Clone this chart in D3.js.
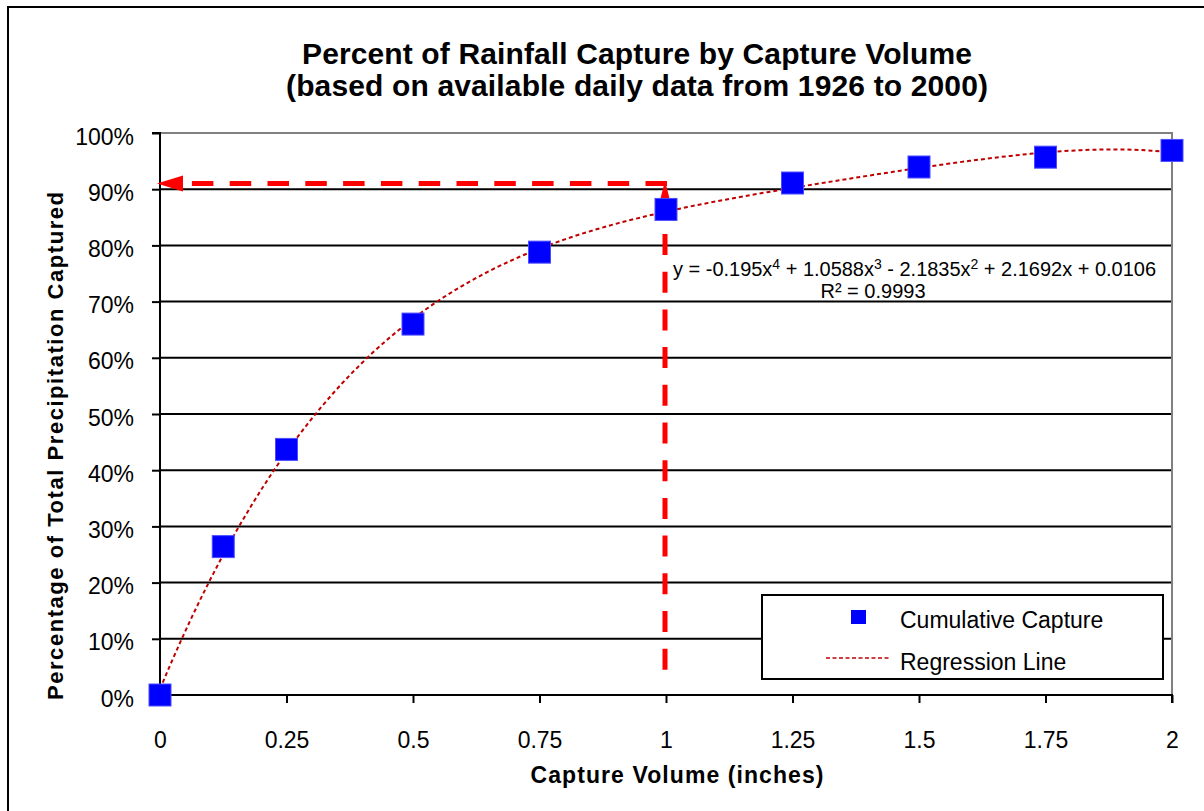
<!DOCTYPE html>
<html><head><meta charset="utf-8">
<script src="https://cdn.jsdelivr.net/npm/d3@7"></script>
<style>
html,body{margin:0;padding:0;background:#fff;}
svg{display:block;font-family:"Liberation Sans",Arial,sans-serif;}
</style></head>
<body>
<svg id="chart" width="1204" height="811"></svg>
<script>
// ---- data ----
const captureVolume = [0, 0.125, 0.25, 0.5, 0.75, 1, 1.25, 1.5, 1.75, 2];
const cumulativeCapture = [0.0, 0.264, 0.437, 0.660, 0.788, 0.864, 0.911, 0.9395, 0.957, 0.969];
const regressionCoeffs = [0.0106, 2.1692, -2.1835, 1.0588, -0.195]; // c0..c4 as printed on chart
const xTicks = [0, 0.25, 0.5, 0.75, 1, 1.25, 1.5, 1.75, 2];
const yTicks = [0, 0.1, 0.2, 0.3, 0.4, 0.5, 0.6, 0.7, 0.8, 0.9, 1.0];
const arrowPoint = [1, 0.91];
const arrowStartY = 0.045;
const titleLines = ["Percent of Rainfall Capture by Capture Volume", "(based on available daily data from 1926 to 2000)"];
const xTitle = "Capture Volume (inches)";
const yTitle = "Percentage of Total Precipitation Captured";
const legendLabels = ["Cumulative Capture", "Regression Line"];

const svg = d3.select("#chart");
const L = 160, R = 1172, T = 133, B = 695;
const x = d3.scaleLinear().domain([0, 2]).range([L, R]);
const y = d3.scaleLinear().domain([0, 1]).range([B, T]);

// outer frame
svg.append("rect").attr("x", 8).attr("y", 7).attr("width", 1400).attr("height", 1000)
  .attr("fill", "none").attr("stroke", "#000").attr("stroke-width", 2);

// title
const title = svg.append("text").attr("text-anchor", "middle").attr("font-weight", "bold")
  .attr("font-size", 30).attr("fill", "#000");
title.append("tspan").attr("x", 637).attr("y", 64).attr("textLength", 670).attr("lengthAdjust", "spacing").text(titleLines[0]);
title.append("tspan").attr("x", 637).attr("y", 96).attr("textLength", 702).attr("lengthAdjust", "spacing").text(titleLines[1]);

// gridlines
svg.append("g").selectAll("line").data(yTicks.slice(1, -1)).join("line")
  .attr("x1", L).attr("x2", R).attr("y1", d => y(d)).attr("y2", d => y(d))
  .attr("stroke", "#000").attr("stroke-width", 2);
// top and right plot border (gray)
svg.append("path").attr("d", `M${L},${y(1)}H${R}V${B}`).attr("fill", "none")
  .attr("stroke", "#808080").attr("stroke-width", 2);

// axes
const xAxis = svg.append("g").attr("transform", `translate(0,${B})`)
  .call(d3.axisBottom(x).tickValues(xTicks).tickSize(8).tickPadding(29).tickFormat(d => String(d)));
const yAxis = svg.append("g").attr("transform", `translate(${L},0)`)
  .call(d3.axisLeft(y).tickValues(yTicks).tickSize(8).tickPadding(18).tickFormat(d3.format(".0%")));
[xAxis, yAxis].forEach(a => {
  a.select(".domain").attr("stroke", "#000").attr("stroke-width", 2);
  a.selectAll(".tick line").attr("stroke", "#000").attr("stroke-width", 2);
  a.selectAll(".tick text").attr("font-size", 23).attr("fill", "#000")
    .attr("font-family", "Liberation Sans, Arial, sans-serif");
});
yAxis.select(".domain").attr("d", `M-8,${y(1)}H0V${B}H-8`);
xAxis.select(".domain").attr("d", `M${L},8V0H${R}V8`);
yAxis.selectAll(".tick text").attr("dy", "0.48em");
xAxis.selectAll(".tick text").attr("dy", "0.71em");

// axis titles
svg.append("text").attr("x", 677).attr("y", 783).attr("text-anchor", "middle")
  .attr("font-weight", "bold").attr("font-size", 23).attr("textLength", 293).attr("lengthAdjust", "spacing")
  .text(xTitle);
svg.append("text").attr("transform", "translate(63,446) rotate(-90)").attr("text-anchor", "middle")
  .attr("font-weight", "bold").attr("font-size", 22).attr("textLength", 508).attr("lengthAdjust", "spacing")
  .text(yTitle);

// regression line
const curveX = d3.range(0, 2.0001, 0.02);
const poly = v => regressionCoeffs.reduce((s, c, i) => s + c * Math.pow(v, i), 0);
svg.append("path").datum(curveX)
  .attr("d", d3.line().x(d => x(d)).y(d => y(poly(d))))
  .attr("fill", "none").attr("stroke", "#C00000").attr("stroke-width", 2)
  .attr("stroke-dasharray", "4,3");

// red arrows
const ax = x(arrowPoint[0]), ay = y(arrowPoint[1]);
const hTipX = x(0) - 3, hBaseX = hTipX + 26;
svg.append("line").attr("x1", ax + 1).attr("y1", ay).attr("x2", hBaseX).attr("y2", ay)
  .attr("stroke", "#FF0000").attr("stroke-width", 5).attr("stroke-dasharray", "21.5,16.3");
svg.append("path").attr("d", `M${hTipX},${ay}L${hBaseX},${ay - 8}L${hBaseX},${ay + 8}Z`).attr("fill", "#FF0000");
const vTipY = ay - 3, vBaseY = vTipY + 28;
svg.append("line").attr("x1", ax - 1).attr("y1", y(arrowStartY)).attr("x2", ax - 1).attr("y2", vBaseY)
  .attr("stroke", "#FF0000").attr("stroke-width", 5).attr("stroke-dasharray", "21,16.7");
svg.append("path").attr("d", `M${ax - 1},${vTipY}L${ax - 8},${vBaseY}L${ax + 6},${vBaseY}Z`).attr("fill", "#FF0000");

// markers
svg.append("g").selectAll("rect").data(captureVolume).join("rect")
  .attr("x", d => x(d) - 11).attr("y", (d, i) => y(cumulativeCapture[i]) - 11)
  .attr("width", 22).attr("height", 22).attr("fill", "#0000FF")
  .attr("stroke", "#4d4dff").attr("stroke-width", 1);

// equation
const eq = svg.append("text").attr("x", 673).attr("y", 276).attr("font-size", 20).attr("fill", "#000")
  .attr("textLength", 483).attr("lengthAdjust", "spacing");
const parts = [["y = -0.195x", "4"], [" + 1.0588x", "3"], [" - 2.1835x", "2"], [" + 2.1692x + 0.0106", null]];
let pendingDy = 0;
parts.forEach(([t, s]) => {
  eq.append("tspan").attr("dy", pendingDy).text(t);
  pendingDy = 0;
  if (s) { eq.append("tspan").attr("font-size", 14).attr("dy", -7).text(s); pendingDy = 7; }
});
svg.append("text").attr("x", 873).attr("y", 298).attr("text-anchor", "middle").attr("font-size", 20)
  .text("R² = 0.9993");

// legend
const lg = svg.append("g");
lg.append("rect").attr("x", 762).attr("y", 595).attr("width", 401).attr("height", 84)
  .attr("fill", "#fff").attr("stroke", "#000").attr("stroke-width", 2);
lg.append("rect").attr("x", 851).attr("y", 610).attr("width", 15).attr("height", 14).attr("fill", "#0000FF");
lg.append("line").attr("x1", 826).attr("x2", 890).attr("y1", 658).attr("y2", 658)
  .attr("stroke", "#C00000").attr("stroke-width", 1.5).attr("stroke-dasharray", "4,2.5");
lg.selectAll("text").data(legendLabels).join("text")
  .attr("x", 900).attr("y", (d, i) => 628 + i * 42).attr("font-size", 23).text(d => d);
</script>
</body></html>
